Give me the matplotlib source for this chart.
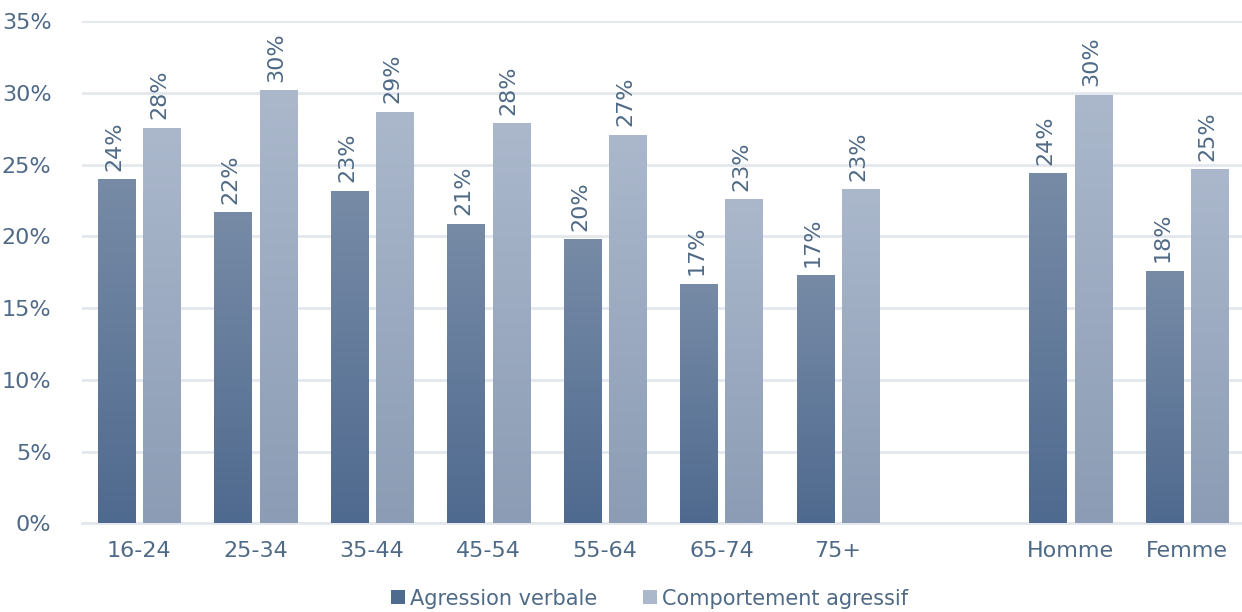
import numpy as np
import matplotlib.pyplot as plt
from matplotlib.colors import LinearSegmentedColormap
from matplotlib.patches import Patch

# Données
categories = ['16-24', '25-34', '35-44', '45-54', '55-64', '65-74', '75+', 'Homme', 'Femme']
slots = [0, 1, 2, 3, 4, 5, 6, 8, 9]  # un emplacement vide avant Homme/Femme
agression_verbale = [24.0, 21.7, 23.2, 20.9, 19.8, 16.7, 17.3, 24.4, 17.6]
comportement_agressif = [27.6, 30.2, 28.7, 27.9, 27.1, 22.6, 23.3, 29.9, 24.7]
series_names = ['Agression verbale', 'Comportement agressif']

TEXT = '#4f6a86'
GRID = '#e3e8ee'
grad_dark = ('#4f6a8f', '#778ba6')   # bas, haut
grad_light = ('#8b9cb4', '#abb8cc')

plt.rcParams['font.family'] = 'DejaVu Sans'

fig = plt.figure(figsize=(12.42, 6.12), dpi=100)
ax = fig.add_axes([0.066, 0.145, 0.934, 0.82])

width = 0.32
offset = 0.195
x = np.array(slots, dtype=float)


def gradient_bars(xpos, vals, colors):
    bars = ax.bar(xpos, vals, width, color=colors[0], zorder=2)
    cmap = LinearSegmentedColormap.from_list('g', list(colors))
    grad = np.linspace(0, 1, 256).reshape(-1, 1)
    for b in bars:
        x0, y0 = b.get_x(), b.get_y()
        im = ax.imshow(grad, cmap=cmap, origin='lower', aspect='auto',
                       extent=(x0, x0 + b.get_width(), y0, y0 + b.get_height()),
                       zorder=3)
        im.set_clip_path(b)
    return bars


gradient_bars(x - offset, agression_verbale, grad_dark)
gradient_bars(x + offset, comportement_agressif, grad_light)

for xs, vals in [(x - offset, agression_verbale), (x + offset, comportement_agressif)]:
    for xi, v in zip(xs, vals):
        ax.text(xi - 0.02, v + 0.6, f'{round(v):.0f}%', rotation=90, ha='center', va='bottom',
                fontsize=16, color=TEXT, zorder=4)

ax.set_xlim(-0.49, 9.47)
ax.set_ylim(0, 35)
ax.set_yticks(np.arange(0, 36, 5))
ax.set_yticklabels([f'{t}%' for t in range(0, 36, 5)])
ax.set_xticks(x)
ax.set_xticklabels(categories)
ax.tick_params(axis='both', length=0, labelsize=16, labelcolor=TEXT)
ax.tick_params(axis='x', pad=13)
ax.tick_params(axis='y', pad=22)
ax.yaxis.grid(True, color=GRID, linewidth=2, zorder=0)
ax.set_axisbelow(True)
for s in ['top', 'right', 'left']:
    ax.spines[s].set_visible(False)
ax.spines['bottom'].set_color(GRID)
ax.spines['bottom'].set_linewidth(2)

handles = [Patch(facecolor=grad_dark[0], label=series_names[0]),
           Patch(facecolor=grad_light[1], label=series_names[1])]
leg = fig.legend(handles=handles, loc='lower center', ncol=2, frameon=False,
                 fontsize=15, handlelength=0.65, handleheight=0.65,
                 handletextpad=0.25, columnspacing=2.2, bbox_to_anchor=(0.523, -0.025))
for t in leg.get_texts():
    t.set_color(TEXT)

fig.savefig('out.png', dpi=100)
